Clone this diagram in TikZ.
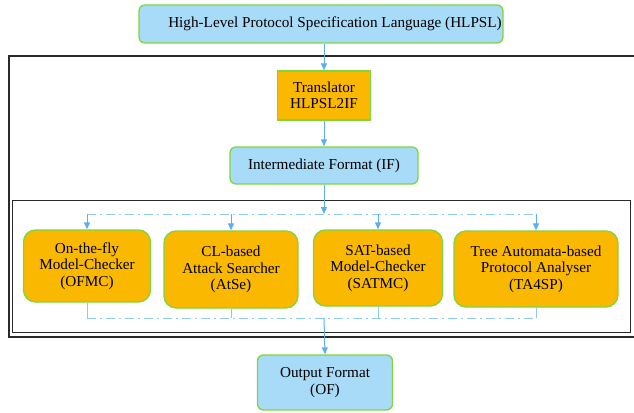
\documentclass[tikz,border=0pt]{standalone}
\usepackage{fontspec}
\setmainfont{Liberation Serif}
\usetikzlibrary{arrows.meta,calc}
\definecolor{boxblue}{HTML}{A8DBF8}
\definecolor{edgegreen}{HTML}{7ED63C}
\definecolor{boxorange}{HTML}{FAB800}
\definecolor{flowblue}{HTML}{5EAEEE}
\definecolor{lineblue}{HTML}{8FC9F2}
\definecolor{framegray}{HTML}{2A2A2A}
\begin{document}
\begin{tikzpicture}[x=1pt,y=-1pt,
  every node/.style={font=\fontsize{15.2}{16.5}\selectfont, align=center, inner sep=0pt},
  bluebox/.style={draw=edgegreen, line width=1.3pt, fill=boxblue, rounded corners=6pt},
  orangebox/.style={draw=edgegreen, line width=1.3pt, fill=boxorange, rounded corners=12pt},
  squarebox/.style={draw=edgegreen, line width=1.3pt, fill=boxorange},
  flow/.style={draw=flowblue, line width=1pt, -{Triangle[width=6pt,length=7pt]}},
  stub/.style={draw=lineblue, line width=1pt},
  dashdot/.style={draw=lineblue, line width=1pt, dash pattern=on 9pt off 4pt on 2pt off 4pt},
  outerframe/.style={draw=framegray, line width=2pt},
  innerframe/.style={draw=framegray, line width=1.4pt}]
\useasboundingbox (0,0) rectangle (634,412);

% frames
\draw[outerframe] (8.5,56.5) rectangle (634.5,337);
\draw[innerframe] (12.5,200.5) rectangle (630.5,332.5);

% nodes
\node[bluebox, minimum width=364pt, minimum height=38pt] (top) at (321,24)
  {\hspace*{28pt}High-Level Protocol Specification Language (HLPSL)};
\node[squarebox, minimum width=93pt, minimum height=49pt] (trans) at (324,95.5)
  {Translator\\HLPSL2IF};
\node[bluebox, minimum width=188pt, minimum height=37pt] (if) at (324,165.5)
  {Intermediate Format (IF)};
\node[orangebox, minimum width=127pt, minimum height=72pt] (ofmc) at (87,266)
  {On-the-fly\\Model-Checker\\(OFMC)};
\node[orangebox, minimum width=134pt, minimum height=77pt] (atse) at (231,269.5)
  {CL-based\\Attack Searcher\\(AtSe)};
\node[orangebox, minimum width=129pt, minimum height=76pt] (satmc) at (378,268)
  {SAT-based\\Model-Checker\\(SATMC)};
\node[orangebox, minimum width=164pt, minimum height=76pt] (ta) at (536,269)
  {Tree Automata-based\\Protocol Analyser\\(TA4SP)};
\node[bluebox, minimum width=135pt, minimum height=55pt] (of) at (325,382.5)
  {Output Format\\(OF)};

% distribution and collection lines
\coordinate (hubtop) at (324,214);
\coordinate (hubbot) at (324,318);

\draw[flow] (top.south -| trans.north) -- (trans.north);
\draw[flow] (trans.south) -- (if.north);
\draw[flow] (if.south) -- (hubtop);
\draw[dashdot] (ofmc.north |- hubtop) -- (ta.north |- hubtop);
\foreach \n in {ofmc,atse,satmc,ta}
  \draw[flow] (\n.north |- hubtop) -- (\n.north);

\foreach \n in {ofmc,atse,satmc,ta}
  \draw[stub] (\n.south) -- (\n.south |- hubbot);
\draw[dashdot] (ofmc.south |- hubbot) -- (ta.south |- hubbot);
\draw[flow] (hubbot) -- (of.north);
\end{tikzpicture}
\end{document}
